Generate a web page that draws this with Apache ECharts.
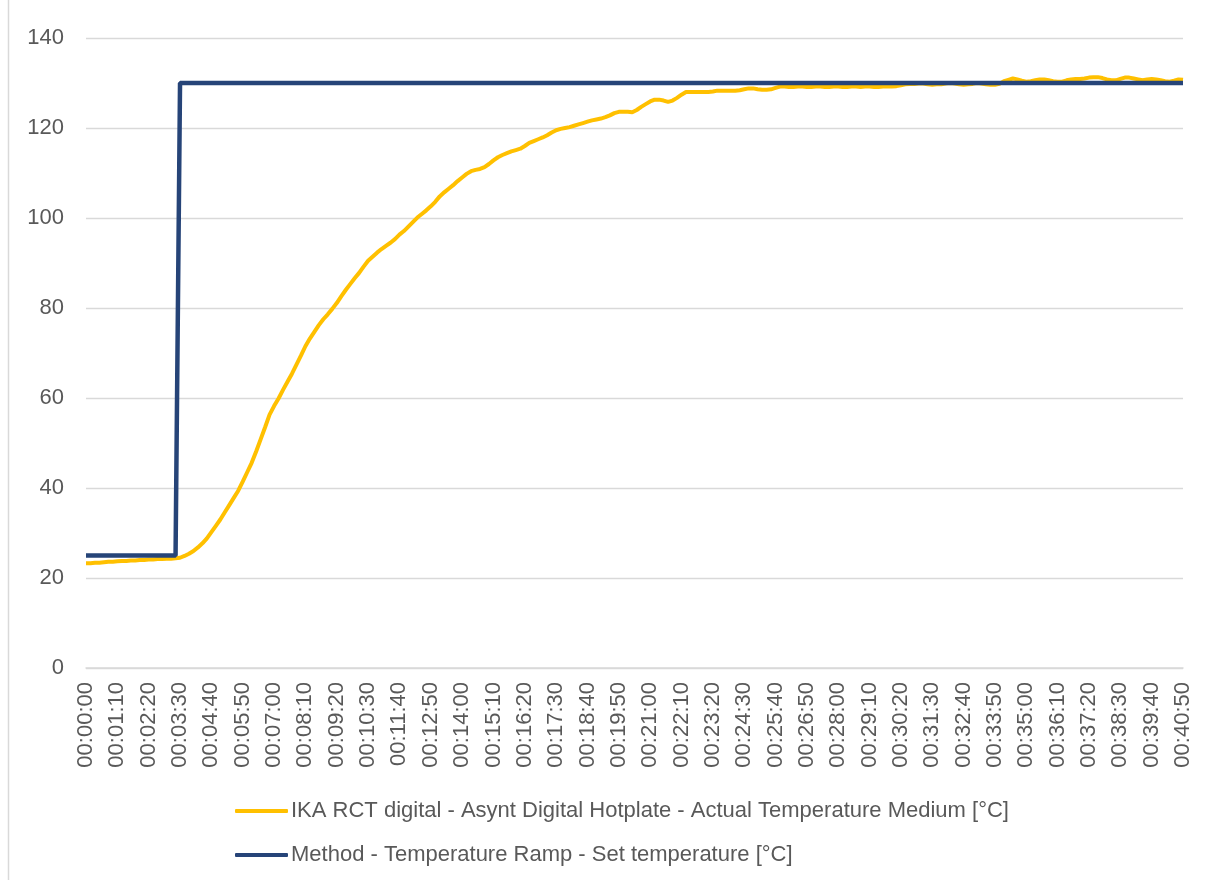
<!DOCTYPE html>
<html>
<head>
<meta charset="utf-8">
<script src="https://cdn.jsdelivr.net/npm/echarts@6/dist/echarts.min.js"></script>
<style>html,body{margin:0;padding:0;background:#fff}#c{width:1206px;height:880px}</style>
</head>
<body>
<div id="c"></div>
<script>
const times = [
"00:00:00","00:00:10","00:00:20","00:00:30","00:00:40","00:00:50",
"00:01:00","00:01:10","00:01:20","00:01:30","00:01:40","00:01:50",
"00:02:00","00:02:10","00:02:20","00:02:30","00:02:40","00:02:50",
"00:03:00","00:03:10","00:03:20","00:03:30","00:03:40","00:03:50",
"00:04:00","00:04:10","00:04:20","00:04:30","00:04:40","00:04:50",
"00:05:00","00:05:10","00:05:20","00:05:30","00:05:40","00:05:50",
"00:06:00","00:06:10","00:06:20","00:06:30","00:06:40","00:06:50",
"00:07:00","00:07:10","00:07:20","00:07:30","00:07:40","00:07:50",
"00:08:00","00:08:10","00:08:20","00:08:30","00:08:40","00:08:50",
"00:09:00","00:09:10","00:09:20","00:09:30","00:09:40","00:09:50",
"00:10:00","00:10:10","00:10:20","00:10:30","00:10:40","00:10:50",
"00:11:00","00:11:10","00:11:20","00:11:30","00:11:40","00:11:50",
"00:12:00","00:12:10","00:12:20","00:12:30","00:12:40","00:12:50",
"00:13:00","00:13:10","00:13:20","00:13:30","00:13:40","00:13:50",
"00:14:00","00:14:10","00:14:20","00:14:30","00:14:40","00:14:50",
"00:15:00","00:15:10","00:15:20","00:15:30","00:15:40","00:15:50",
"00:16:00","00:16:10","00:16:20","00:16:30","00:16:40","00:16:50",
"00:17:00","00:17:10","00:17:20","00:17:30","00:17:40","00:17:50",
"00:18:00","00:18:10","00:18:20","00:18:30","00:18:40","00:18:50",
"00:19:00","00:19:10","00:19:20","00:19:30","00:19:40","00:19:50",
"00:20:00","00:20:10","00:20:20","00:20:30","00:20:40","00:20:50",
"00:21:00","00:21:10","00:21:20","00:21:30","00:21:40","00:21:50",
"00:22:00","00:22:10","00:22:20","00:22:30","00:22:40","00:22:50",
"00:23:00","00:23:10","00:23:20","00:23:30","00:23:40","00:23:50",
"00:24:00","00:24:10","00:24:20","00:24:30","00:24:40","00:24:50",
"00:25:00","00:25:10","00:25:20","00:25:30","00:25:40","00:25:50",
"00:26:00","00:26:10","00:26:20","00:26:30","00:26:40","00:26:50",
"00:27:00","00:27:10","00:27:20","00:27:30","00:27:40","00:27:50",
"00:28:00","00:28:10","00:28:20","00:28:30","00:28:40","00:28:50",
"00:29:00","00:29:10","00:29:20","00:29:30","00:29:40","00:29:50",
"00:30:00","00:30:10","00:30:20","00:30:30","00:30:40","00:30:50",
"00:31:00","00:31:10","00:31:20","00:31:30","00:31:40","00:31:50",
"00:32:00","00:32:10","00:32:20","00:32:30","00:32:40","00:32:50",
"00:33:00","00:33:10","00:33:20","00:33:30","00:33:40","00:33:50",
"00:34:00","00:34:10","00:34:20","00:34:30","00:34:40","00:34:50",
"00:35:00","00:35:10","00:35:20","00:35:30","00:35:40","00:35:50",
"00:36:00","00:36:10","00:36:20","00:36:30","00:36:40","00:36:50",
"00:37:00","00:37:10","00:37:20","00:37:30","00:37:40","00:37:50",
"00:38:00","00:38:10","00:38:20","00:38:30","00:38:40","00:38:50",
"00:39:00","00:39:10","00:39:20","00:39:30","00:39:40","00:39:50",
"00:40:00","00:40:10","00:40:20","00:40:30","00:40:40","00:40:50"
];

const actualTemp = [
23.3,23.3,23.4,23.4,23.5,23.6,23.6,23.7,23.8,23.8,
23.9,23.9,24.0,24.0,24.1,24.1,24.2,24.2,24.3,24.3,
24.4,24.5,24.9,25.4,26.0,26.8,27.7,28.8,30.2,31.6,
33.0,34.6,36.2,37.8,39.4,41.4,43.5,45.6,48.1,50.8,
53.5,56.3,58.2,59.9,61.8,63.6,65.4,67.4,69.4,71.5,
73.2,74.7,76.2,77.5,78.6,79.8,81.1,82.6,84.0,85.3,
86.6,87.8,89.2,90.5,91.4,92.3,93.1,93.8,94.5,95.3,
96.3,97.1,98.1,99.1,100.1,100.9,101.7,102.6,103.6,104.8,
105.7,106.5,107.3,108.2,109.0,109.8,110.4,110.7,110.9,111.3,
112.0,112.8,113.5,114.0,114.4,114.8,115.1,115.4,116.0,116.7,
117.1,117.5,117.9,118.4,119.0,119.5,119.8,120.0,120.2,120.5,
120.8,121.1,121.4,121.7,121.9,122.1,122.4,122.8,123.3,123.6,
123.6,123.6,123.5,124.0,124.7,125.3,125.9,126.3,126.3,126.1,
125.8,126.1,126.7,127.4,128.0,128.0,128.0,128.0,128.0,128.0,
128.1,128.3,128.3,128.3,128.3,128.3,128.4,128.6,128.8,128.8,
128.6,128.5,128.5,128.6,128.9,129.2,129.2,129.1,129.1,129.2,
129.2,129.1,129.1,129.2,129.2,129.1,129.1,129.2,129.2,129.1,
129.1,129.2,129.2,129.1,129.2,129.2,129.1,129.1,129.2,129.2,
129.2,129.3,129.5,129.7,129.8,129.8,129.9,129.9,129.7,129.6,
129.7,129.7,129.9,130.0,129.9,129.7,129.6,129.7,129.8,130.0,
129.9,129.7,129.6,129.6,129.8,130.4,130.7,131.0,130.8,130.5,
130.3,130.4,130.6,130.8,130.8,130.6,130.4,130.3,130.3,130.6,
130.8,130.9,130.9,131.0,131.2,131.3,131.3,131.1,130.8,130.6,
130.6,130.9,131.2,131.2,131.0,130.8,130.6,130.8,130.9,130.8,
130.6,130.4,130.3,130.5,130.8,130.7
];

const setTemp = [
25,25,25,25,25,25,25,25,25,25,
25,25,25,25,25,25,25,25,25,25,
25,130,130,130,130,130,130,130,130,130,
130,130,130,130,130,130,130,130,130,130,
130,130,130,130,130,130,130,130,130,130,
130,130,130,130,130,130,130,130,130,130,
130,130,130,130,130,130,130,130,130,130,
130,130,130,130,130,130,130,130,130,130,
130,130,130,130,130,130,130,130,130,130,
130,130,130,130,130,130,130,130,130,130,
130,130,130,130,130,130,130,130,130,130,
130,130,130,130,130,130,130,130,130,130,
130,130,130,130,130,130,130,130,130,130,
130,130,130,130,130,130,130,130,130,130,
130,130,130,130,130,130,130,130,130,130,
130,130,130,130,130,130,130,130,130,130,
130,130,130,130,130,130,130,130,130,130,
130,130,130,130,130,130,130,130,130,130,
130,130,130,130,130,130,130,130,130,130,
130,130,130,130,130,130,130,130,130,130,
130,130,130,130,130,130,130,130,130,130,
130,130,130,130,130,130,130,130,130,130,
130,130,130,130,130,130,130,130,130,130,
130,130,130,130,130,130,130,130,130,130,
130,130,130,130,130,130
];

const seriesNames = [
  "IKA RCT digital - Asynt Digital Hotplate - Actual Temperature Medium [°C]",
  "Method - Temperature Ramp - Set temperature [°C]"
];

const font = "'Liberation Sans', Arial, sans-serif";
const chart = echarts.init(document.getElementById('c'));
chart.setOption({
  backgroundColor: '#ffffff',
  animation: false,
  graphic: [{
    type: 'line', shape: {x1: 8.5, y1: 0, x2: 8.5, y2: 880},
    style: {stroke: '#d9d9d9', lineWidth: 1.5}
  }],
  grid: {left: 86, right: 23, top: 38, bottom: 212, containLabel: false},
  legend: {
    orient: 'vertical', left: 230, top: 795, itemGap: 22,
    itemWidth: 53, itemHeight: 4, icon: 'roundRect',
    textStyle: {fontFamily: font, fontSize: 22, color: '#595959', padding: [0,0,0,-2]},
    data: seriesNames
  },
  xAxis: {
    type: 'category', data: times, boundaryGap: false,
    axisLine: {show: true, lineStyle: {color: '#d9d9d9', width: 1.5}},
    axisTick: {show: false},
    splitLine: {show: false},
    axisLabel: {interval: 6, rotate: 90, margin: 14, fontFamily: font, fontSize: 22, color: '#595959'}
  },
  yAxis: {
    type: 'value', min: 0, max: 140, interval: 20,
    axisLine: {show: false}, axisTick: {show: false},
    splitLine: {lineStyle: {color: '#d9d9d9', width: 1.3}},
    axisLabel: {margin: 22, fontFamily: font, fontSize: 22, color: '#595959'}
  },
  series: [
    {name: seriesNames[0], type: 'line', data: actualTemp, symbol: 'none',
     lineStyle: {color: '#FFC000', width: 4}, itemStyle: {color: '#FFC000'}},
    {name: seriesNames[1], type: 'line', data: setTemp, symbol: 'none',
     lineStyle: {color: '#264478', width: 4.5}, itemStyle: {color: '#264478'}}
  ]
});
</script>
</body>
</html>
